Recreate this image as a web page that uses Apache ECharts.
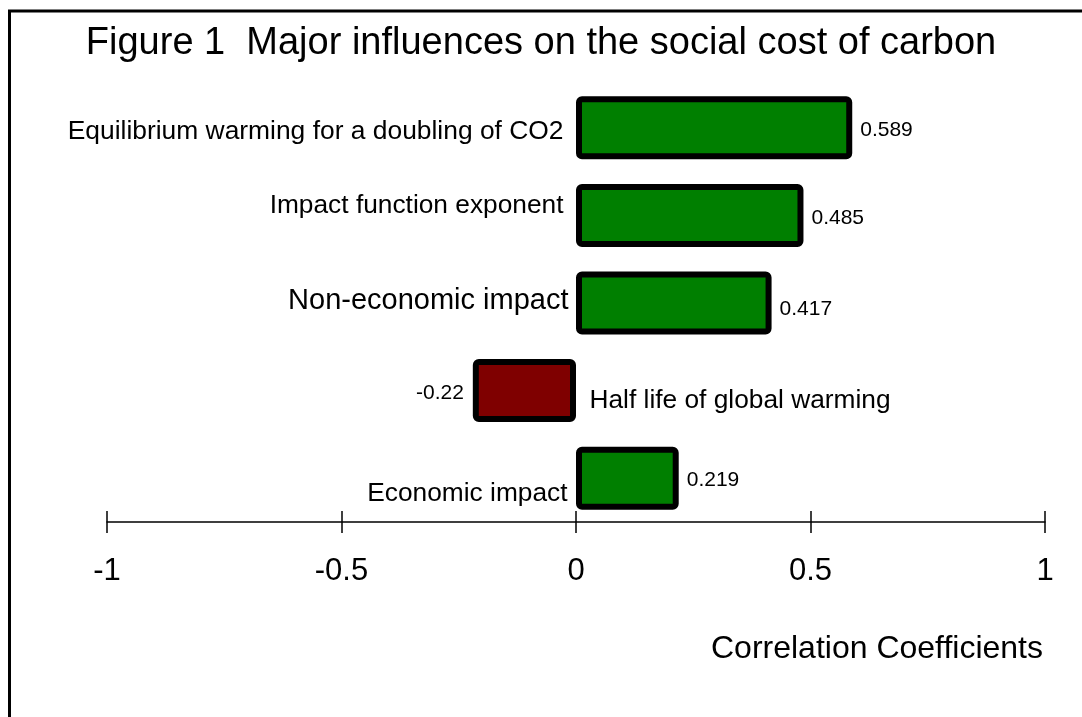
<!DOCTYPE html>
<html>
<head>
<meta charset="utf-8">
<script src="https://cdn.jsdelivr.net/npm/echarts@6/dist/echarts.min.js"></script>
<style>
  html, body { margin: 0; padding: 0; background: #fff; }
  #main { width: 1082px; height: 717px; }
</style>
</head>
<body>
<div id="main"></div>
<script>
var categories = [
    'Equilibrium warming for a doubling of CO2',
    'Impact function exponent',
    'Non-economic impact',
    'Half life of global warming',
    'Economic impact'
];
var coefficients = [0.589, 0.485, 0.417, -0.22, 0.219];
var valueLabels = ['0.589', '0.485', '0.417', '-0.22', '0.219'];
var xTicks = [-1, -0.5, 0, 0.5, 1];

// per-row look of the category names (they sit at the zero line in the original)
var nameStyle = [
    { size: 26.4, dist: 12, dy: 4 },
    { size: 26.3, dist: 12, dy: -10 },
    { size: 29, dist: 7, dy: -2 },
    { size: 26.3, dist: 13, dy: 10 },
    { size: 26.3, dist: 8, dy: 16 }
];
var valueDy = [2, 3, 6, 3, 2];

var chart = echarts.init(document.getElementById('main'));

var barData = coefficients.map(function (v, i) {
    var neg = v < 0;
    return {
        value: v,
        itemStyle: { color: neg ? '#7f0000' : '#007f00' },
        label: {
            position: neg ? 'left' : 'right',
            distance: neg ? 9 : 8,
            offset: [0, valueDy[i]]
        }
    };
});

var nameData = categories.map(function (c, i) {
    var neg = coefficients[i] < 0;
    var s = nameStyle[i];
    return {
        value: [0, c],
        label: {
            show: true,
            formatter: c,
            color: '#000',
            position: neg ? 'right' : 'left',
            distance: s.dist,
            offset: [0, s.dy],
            fontSize: s.size
        }
    };
});

var option = {
    animation: false,
    backgroundColor: '#fff',
    textStyle: { fontFamily: 'Liberation Sans, Arial, sans-serif' },
    title: {
        text: 'Figure 1  Major influences on the social cost of carbon',
        left: 'center',
        top: 20,
        textStyle: {
            fontSize: 38,
            fontWeight: 'normal',
            color: '#000',
            fontFamily: 'Liberation Sans, Arial, sans-serif'
        }
    },
    graphic: [
        {
            type: 'rect',
            shape: { x: 9.5, y: 11, width: 1200, height: 1000 },
            style: { fill: null, stroke: '#000', lineWidth: 3 },
            silent: true
        },
        {
            type: 'text',
            right: 39,
            top: 633,
            style: {
                text: 'Correlation Coefficients',
                fontSize: 32,
                fill: '#000',
                fontFamily: 'Liberation Sans, Arial, sans-serif'
            }
        }
    ],
    grid: { left: 107, right: 37, top: 84, bottom: 195 },
    xAxis: [
        {
            type: 'value',
            position: 'bottom',
            min: -1,
            max: 1,
            interval: 0.5,
            splitLine: { show: false },
            axisLine: { show: true, onZero: false, lineStyle: { color: '#000', width: 1.5 } },
            axisTick: { show: true, length: 11, lineStyle: { color: '#000', width: 1.5 } },
            axisLabel: {
                color: '#000',
                fontSize: 31,
                margin: 34,
                formatter: function (v) { return xTicks.indexOf(v) >= 0 ? String(v) : ''; }
            }
        },
        {
            type: 'value',
            position: 'bottom',
            min: -1,
            max: 1,
            interval: 0.5,
            splitLine: { show: false },
            axisLine: { show: false, onZero: false },
            axisTick: { show: true, inside: true, length: 11, lineStyle: { color: '#000', width: 1.5 } },
            axisLabel: { show: false }
        }
    ],
    yAxis: {
        type: 'category',
        inverse: true,
        data: categories,
        axisLine: { show: false },
        axisTick: { show: false },
        axisLabel: { show: false },
        splitLine: { show: false }
    },
    series: [
        {
            type: 'bar',
            xAxisIndex: 0,
            barWidth: 63,
            data: barData,
            itemStyle: { borderColor: '#000', borderWidth: 6, borderRadius: 3 },
            label: {
                show: true,
                color: '#000',
                fontSize: 21,
                formatter: function (p) { return valueLabels[p.dataIndex]; }
            },
            z: 2
        },
        {
            type: 'scatter',
            xAxisIndex: 0,
            symbolSize: 1,
            // scatter defaults to opacity 0.8, which greys the labels
            itemStyle: { color: 'rgba(0,0,0,0)', opacity: 1 },
            data: nameData,
            z: 3
        }
    ]
};
chart.setOption(option);
</script>
</body>
</html>
